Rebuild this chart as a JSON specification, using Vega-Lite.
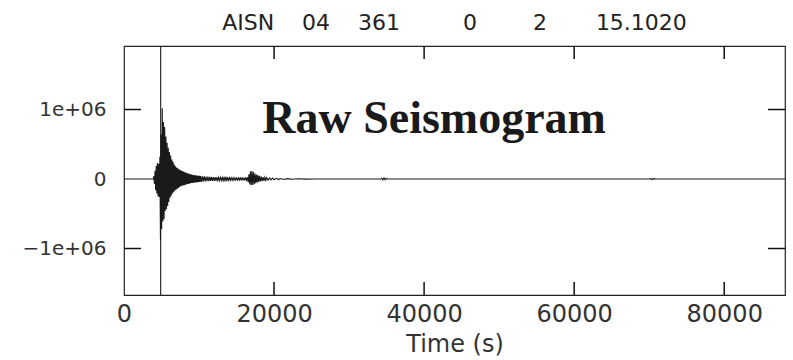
{
  "$schema": "https://vega.github.io/schema/vega-lite/v6.json",
  "width": 661,
  "height": 249,
  "autosize": "none",
  "padding": {"left": 124, "top": 46, "right": 8, "bottom": 65},
  "background": "white",
  "config": {
    "view": {"stroke": "#222", "strokeWidth": 1.2},
    "axis": {"domain": false, "ticks": false, "grid": false, "labelFont": "DejaVu Sans", "labelColor": "#333", "titleFont": "DejaVu Sans", "titleColor": "#333", "titleFontWeight": "normal", "labelOverlap": false, "labelFlush": false}
  },
  "title": {"text": "AISN\u00a0\u00a0\u00a0\u00a004\u00a0\u00a0\u00a0\u00a0361\u00a0\u00a0\u00a0\u00a0\u00a0\u00a0\u00a0\u00a0\u00a00\u00a0\u00a0\u00a0\u00a0\u00a0\u00a0\u00a0\u00a02\u00a0\u00a0\u00a0\u00a0\u00a0\u00a0\u00a015.1020", "font": "DejaVu Sans", "fontSize": 22, "fontWeight": "normal", "color": "#222", "anchor": "middle", "offset": 10},
  "datasets": {
    "trace": [
      {"t":0,"v":0},{"t":3900,"v":0},{"t":3980,"v":40000},{"t":4060,"v":-70000},{"t":4140,"v":120000},{"t":4220,"v":-160000},{"t":4300,"v":190000},{"t":4380,"v":-210000},{"t":4460,"v":230000},{"t":4540,"v":-250000},{"t":4620,"v":220000},{"t":4700,"v":-260000},{"t":4780,"v":320000},{"t":4860,"v":-870000},{"t":4940,"v":640000},{"t":5020,"v":-720000},{"t":5100,"v":1020000},{"t":5180,"v":-610000},{"t":5260,"v":820000},{"t":5340,"v":-580000},{"t":5420,"v":750000},{"t":5500,"v":-460000},{"t":5580,"v":610000},{"t":5660,"v":-430000},{"t":5740,"v":520000},{"t":5820,"v":-390000},{"t":5900,"v":450000},{"t":5980,"v":-330000},{"t":6060,"v":390000},{"t":6140,"v":-270000},{"t":6220,"v":340000},{"t":6300,"v":-240000},{"t":6380,"v":280000},{"t":6460,"v":-210000},{"t":6540,"v":250000},{"t":6620,"v":-190000},{"t":6700,"v":210000},{"t":6780,"v":-170000},{"t":6860,"v":185000},{"t":6940,"v":-155000},{"t":7020,"v":165000},{"t":7100,"v":-140000},{"t":7180,"v":155000},{"t":7260,"v":-130000},{"t":7340,"v":140000},{"t":7420,"v":-115000},{"t":7500,"v":130000},{"t":7580,"v":-105000},{"t":7660,"v":120000},{"t":7740,"v":-98000},{"t":7820,"v":115000},{"t":7900,"v":-92000},{"t":7980,"v":105000},{"t":8060,"v":-88000},{"t":8140,"v":98000},{"t":8220,"v":-82000},{"t":8300,"v":90000},{"t":8380,"v":-76000},{"t":8460,"v":84000},{"t":8540,"v":-72000},{"t":8620,"v":78000},{"t":8700,"v":-66000},{"t":8780,"v":72000},{"t":8860,"v":-62000},{"t":8940,"v":68000},{"t":9020,"v":-58000},{"t":9100,"v":62000},{"t":9180,"v":-55000},{"t":9260,"v":58000},{"t":9340,"v":-52000},{"t":9420,"v":55000},{"t":9500,"v":-50000},{"t":9580,"v":52000},{"t":9660,"v":-48000},{"t":9740,"v":50000},{"t":9820,"v":-45000},{"t":9900,"v":48000},{"t":9980,"v":-44000},{"t":10060,"v":45000},{"t":10140,"v":-42000},{"t":10220,"v":44000},
      {"t":10340,"v":-40000},{"t":10460,"v":40000},{"t":10580,"v":-36000},{"t":10700,"v":38000},{"t":10820,"v":-34000},{"t":10940,"v":35000},{"t":11060,"v":-32000},{"t":11180,"v":33000},{"t":11300,"v":-30000},{"t":11420,"v":31000},{"t":11540,"v":-28000},{"t":11660,"v":30000},{"t":11780,"v":-27000},{"t":11900,"v":28000},{"t":12020,"v":-26000},{"t":12140,"v":27000},{"t":12260,"v":-25000},{"t":12380,"v":26000},{"t":12500,"v":-24000},{"t":12620,"v":24000},{"t":12740,"v":-22000},{"t":12860,"v":23000},{"t":12980,"v":-21000},{"t":13100,"v":22000},{"t":13220,"v":-24000},{"t":13340,"v":30000},{"t":13460,"v":-34000},{"t":13580,"v":36000},{"t":13700,"v":-30000},{"t":13820,"v":26000},{"t":13940,"v":-20000},{"t":14060,"v":19000},{"t":14180,"v":-18000},{"t":14300,"v":18000},{"t":14420,"v":-17000},{"t":14540,"v":18000},{"t":14660,"v":-16000},{"t":14780,"v":17000},{"t":14900,"v":-16000},{"t":15020,"v":16000},{"t":15140,"v":-15000},{"t":15260,"v":16000},{"t":15380,"v":-15000},{"t":15500,"v":15000},{"t":15620,"v":-14000},{"t":15740,"v":15000},{"t":15860,"v":-14000},{"t":15980,"v":14000},{"t":16100,"v":-14000},{"t":16220,"v":15000},{"t":16340,"v":-18000},{"t":16460,"v":25000},
      {"t":16560,"v":-45000},{"t":16660,"v":70000},{"t":16760,"v":-80000},{"t":16860,"v":110000},{"t":16960,"v":-90000},{"t":17060,"v":115000},{"t":17160,"v":-85000},{"t":17260,"v":100000},{"t":17360,"v":-75000},{"t":17460,"v":80000},{"t":17560,"v":-60000},{"t":17660,"v":65000},{"t":17760,"v":-50000},{"t":17860,"v":55000},{"t":17960,"v":-42000},{"t":18060,"v":45000},{"t":18180,"v":-36000},{"t":18300,"v":35000},{"t":18420,"v":-30000},{"t":18540,"v":28000},{"t":18660,"v":-25000},{"t":18780,"v":24000},{"t":18900,"v":-20000},{"t":19020,"v":20000},{"t":19200,"v":-16000},{"t":19400,"v":15000},{"t":19600,"v":-13000},{"t":19800,"v":12000},{"t":20000,"v":-10000},{"t":20300,"v":9000},{"t":20600,"v":-8000},{"t":20900,"v":7000},{"t":21300,"v":-6000},{"t":21800,"v":5000},{"t":22400,"v":-4000},{"t":23200,"v":3000},{"t":24200,"v":-2000},{"t":25500,"v":0},
      {"t":34200,"v":0},{"t":34350,"v":12000},{"t":34500,"v":-14000},{"t":34650,"v":15000},{"t":34800,"v":-12000},{"t":34950,"v":8000},{"t":35200,"v":0},{"t":70000,"v":0},{"t":70200,"v":6000},{"t":70400,"v":-7000},{"t":70600,"v":5000},{"t":70900,"v":0},{"t":88100,"v":0}
    ],
    "marker": [{"t": 4890}],
    "label": [{"t": 41330, "v": 662000, "text": "Raw Seismogram"}],
    "vticks": [
      {"t": 20000, "v": 1914000, "v2": 1727000}, {"t": 40000, "v": 1914000, "v2": 1727000}, {"t": 60000, "v": 1914000, "v2": 1727000}, {"t": 80000, "v": 1914000, "v2": 1727000},
      {"t": 20000, "v": -1669000, "v2": -1482000}, {"t": 40000, "v": -1669000, "v2": -1482000}, {"t": 60000, "v": -1669000, "v2": -1482000}, {"t": 80000, "v": -1669000, "v2": -1482000}
    ],
    "hticks": [
      {"v": 1000000, "t": 0, "t2": 2266}, {"v": -1000000, "t": 0, "t2": 2266},
      {"v": 1000000, "t": 88100, "t2": 85834}, {"v": -1000000, "t": 88100, "t2": 85834}
    ]
  },
  "layer": [
    {
      "data": {"name": "trace"},
      "mark": {"type": "line", "color": "#1a1a1a", "strokeWidth": 1.1},
      "encoding": {
        "x": {"field": "t", "type": "quantitative", "scale": {"domain": [0, 88100], "nice": false, "zero": false},
              "axis": {"orient": "bottom", "values": [0, 20000, 40000, 60000, 80000], "labelPadding": 7, "labelFontSize": 24, "title": "Time (s)", "titleFontSize": 24, "titlePadding": 6, "format": "d"}},
        "y": {"field": "v", "type": "quantitative", "scale": {"domain": [-1669000, 1914000], "nice": false, "zero": false},
              "axis": {"orient": "left", "values": [-1000000, 0, 1000000], "labelPadding": 18, "labelFontSize": 20, "title": null,
                       "labelExpr": "datum.value == 0 ? '0' : replace(format(datum.value, '.0e'), 'e+', 'e+0')"}}
      }
    },
    {
      "data": {"name": "marker"},
      "mark": {"type": "rule", "color": "#1a1a1a", "strokeWidth": 1.1},
      "encoding": {"x": {"field": "t", "type": "quantitative"}}
    },
    {
      "data": {"name": "vticks"},
      "mark": {"type": "rule", "color": "#111", "strokeWidth": 1.5},
      "encoding": {"x": {"field": "t", "type": "quantitative"}, "y": {"field": "v", "type": "quantitative"}, "y2": {"field": "v2"}}
    },
    {
      "data": {"name": "hticks"},
      "mark": {"type": "rule", "color": "#111", "strokeWidth": 1.5},
      "encoding": {"y": {"field": "v", "type": "quantitative"}, "x": {"field": "t", "type": "quantitative"}, "x2": {"field": "t2"}}
    },
    {
      "data": {"name": "label"},
      "mark": {"type": "text", "font": "Liberation Serif", "fontWeight": "bold", "fontSize": 46, "color": "#1a1a1a", "align": "center", "baseline": "alphabetic"},
      "encoding": {
        "x": {"field": "t", "type": "quantitative"},
        "y": {"field": "v", "type": "quantitative"},
        "text": {"field": "text"}
      }
    }
  ]
}
